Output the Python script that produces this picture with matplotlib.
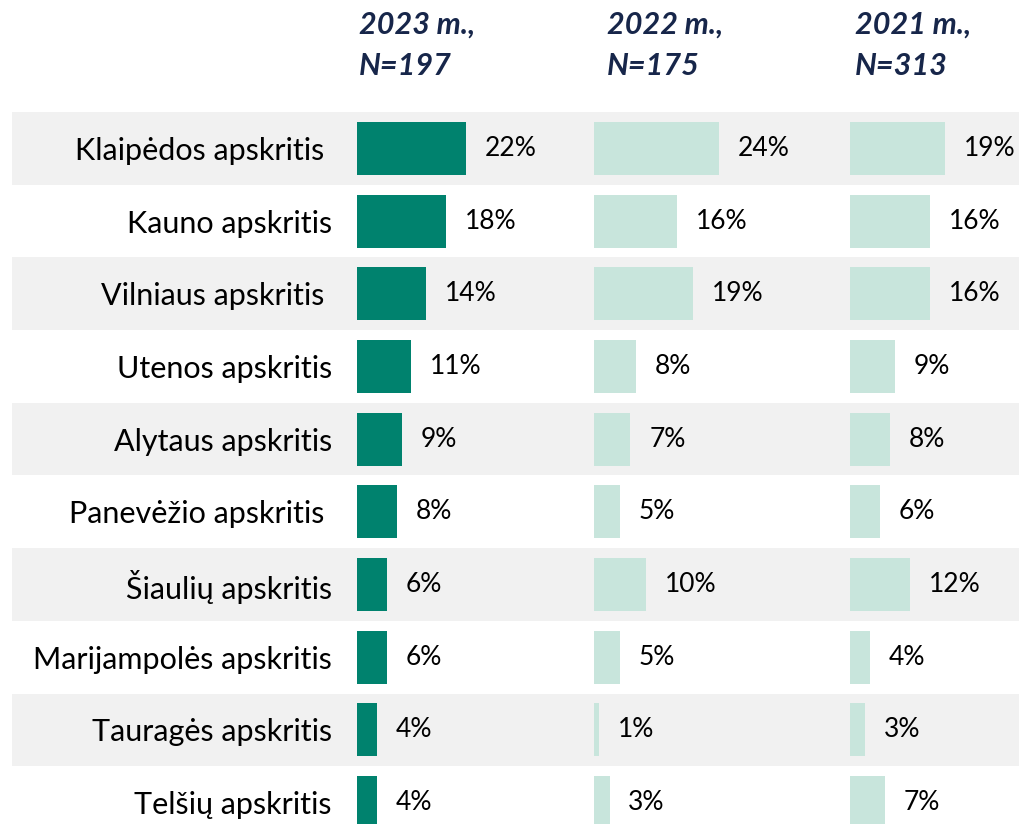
import matplotlib
matplotlib.use("Agg")
import matplotlib.pyplot as plt
import numpy as np

categories = ["Klaipėdos apskritis ", "Kauno apskritis", "Vilniaus apskritis ",
              "Utenos apskritis", "Alytaus apskritis", "Panevėžio apskritis ",
              "Šiaulių apskritis", "Marijampolės apskritis", "Tauragės apskritis",
              "Telšių apskritis"]
v2023 = [22, 18, 14, 11, 9, 8, 6, 6, 4, 4]
v2022 = [24, 16, 19, 8, 7, 5, 10, 5, 1, 3]
v2021 = [19, 16, 16, 9, 8, 6, 12, 4, 3, 7]
headers = ["2023 m.,\nN=197", "2022 m.,\nN=175", "2021 m.,\nN=313"]

plt.rcParams['font.family'] = ['Lato', 'DejaVu Sans']

W, H = 1020, 824
fig = plt.figure(figsize=(W / 100, H / 100), dpi=100)

DARK = "#00826E"
LIGHT = "#C8E5DC"
STRIPE = "#F1F1F1"
NAVY = "#17264A"

n = len(categories)
row_h = 72.7
top = 112
bottom = top + n * row_h

def fx(px):
    return px / W

def fy(px):
    return 1 - px / H

# background stripes
bg = fig.add_axes([fx(12), fy(bottom), fx(W - 12), (bottom - top) / H])
bg.set_ylim(n - 0.5, -0.5)
bg.set_xlim(0, 1)
for i in range(n):
    if i % 2 == 0:
        bg.axhspan(i - 0.5, i + 0.5, color=STRIPE, lw=0)
bg.axis("off")

panels = [
    (357, 237, 4.95, v2023, DARK, 359),
    (594, 256, 5.2, v2022, LIGHT, 607),
    (850, 170, 5.0, v2021, LIGHT, 855),
]
y = np.arange(n)
for k, (left, width, scale, vals, col, hx) in enumerate(panels):
    ax = fig.add_axes([fx(left), fy(bottom), width / W, (bottom - top) / H])
    ax.patch.set_alpha(0)
    bars = ax.barh(y, vals, height=0.73, color=col, lw=0)
    ax.set_xlim(0, width / scale)
    ax.set_ylim(n - 0.5, -0.5)
    ax.bar_label(bars, labels=[f"{v}%" for v in vals], padding=13.5,
                 fontsize=19, color="black")
    for s in ax.spines.values():
        s.set_visible(False)
    ax.set_xticks([])
    if k == 0:
        ax.set_yticks(y)
        ax.set_yticklabels(categories, fontsize=22)
        ax.tick_params(axis="y", length=0, pad=18)
    else:
        ax.set_yticks([])
    fig.text(fx(hx), fy(75), headers[k], ha="left", va="baseline",
             fontsize=22, fontweight="bold", fontstyle="italic", color=NAVY,
             linespacing=1.6)

fig.savefig("out.png", dpi=100)
